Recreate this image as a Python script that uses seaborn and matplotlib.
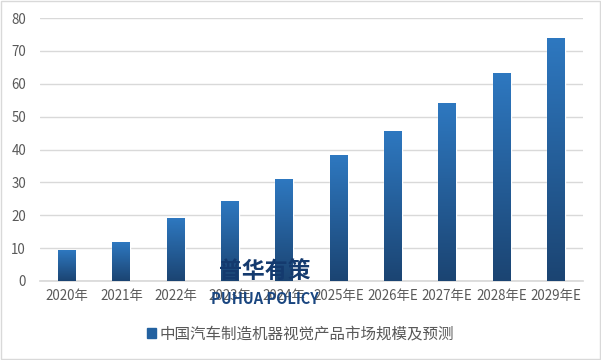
import numpy as np
import pandas as pd
import matplotlib
matplotlib.use("Agg")
import matplotlib.pyplot as plt
import seaborn as sns
from matplotlib.colors import LinearSegmentedColormap
from matplotlib.patches import Rectangle

years = ["2020年", "2021年", "2022年", "2023年", "2024年",
         "2025年E", "2026年E", "2027年E", "2028年E", "2029年E"]
values = [9.4, 11.8, 19.1, 24.3, 31.0, 38.3, 45.6, 54.0, 63.2, 73.8]
series_name = "中国汽车制造机器视觉产品市场规模及预测"

sns.set_theme(style="white")
plt.rcParams['font.family'] = ['Noto Sans CJK SC', 'DejaVu Sans']

df = pd.DataFrame({"year": years, "value": values})

fig = plt.figure(figsize=(6.01, 3.6), dpi=100)
ax = fig.add_axes([40 / 601, 1 - 281 / 360, 543 / 601, 263 / 360])

sns.barplot(data=df, x="year", y="value", color="#2E75B6", width=0.33,
            ax=ax, zorder=2)

# gradient fill on each bar, light at top, dark at bottom
cmap = LinearSegmentedColormap.from_list("bar", ["#1B4472", "#2E78C0"])
grad = np.linspace(0, 1, 256).reshape(-1, 1)
for p in ax.patches:
    x0, y0 = p.get_x(), p.get_y()
    w, h = p.get_width(), p.get_height()
    im = ax.imshow(grad, extent=[x0, x0 + w, y0, y0 + h], origin="lower",
                   cmap=cmap, aspect="auto", zorder=3)
    im.set_clip_path(p)
ax.set_xlim(-0.5, len(years) - 0.5)
ax.set_ylim(0, 80)
ax.set_yticks(range(0, 81, 10))
ax.yaxis.grid(True, color="#D9D9D9", linewidth=1, zorder=0)
for s in ["top", "right", "left"]:
    ax.spines[s].set_visible(False)
ax.spines["bottom"].set_color("#D9D9D9")
ax.set_xlabel("")
ax.set_ylabel("")
ax.tick_params(axis="both", colors="#595959", labelsize=9.6, length=0)
ax.tick_params(axis="x", pad=6)
ax.tick_params(axis="y", pad=10)

# watermark (overlaps the 2023/2024 labels, as in the original)
fig.text(265 / 601, 1 - 271 / 360, "普华有策", color="#143A6E", fontsize=16.5,
         fontweight="heavy", ha="center", va="center")
fig.text(265 / 601, 1 - 299 / 360, "PUHUA POLICY", color="#1A4680", fontsize=10.5,
         fontweight="bold", ha="center", va="center")

# legend
handle = Rectangle((0, 0), 1, 1, color="#2361A0")
fig.legend([handle], [series_name], loc="center", bbox_to_anchor=(0.5, 1 - 334 / 360),
           frameon=False, fontsize=11.2, handlelength=0.6, handleheight=0.6,
           handletextpad=0.25, labelcolor="#595959")

# outer border
fig.patches.append(Rectangle((0.002, 0.003), 0.996, 0.994, transform=fig.transFigure,
                             fill=False, edgecolor="#D9D9D9", linewidth=1))

fig.savefig("out.png", dpi=100)
